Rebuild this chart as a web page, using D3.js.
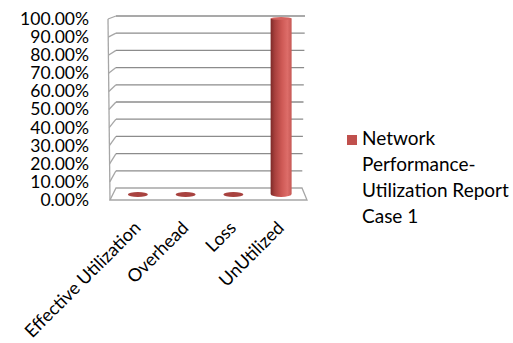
<!DOCTYPE html>
<html>
<head>
    <meta charset="utf-8">
    <style>
        body {
            margin: 0;
            background: #fff;
        }

        svg {
            display: block;
            font-family: Lato, 'Open Sans', sans-serif;
        }

        .y-label {
            font-size: 17.5px;
            fill: #000;
        }

        .cat-label {
            font-size: 18px;
            fill: #000;
        }

        .legend-text {
            font-size: 19px;
            fill: #000;
        }
    </style>
</head>
<body>
    <svg class="chart" width="513" height="343"></svg>

<script src="https://d3js.org/d3.v7.min.js"></script>
<script>
    const categories = ["Effective Utilization", "Overhead", "Loss", "UnUtilized"];
    const values = [0, 0, 0, 1];
    const yTicks = [0, 0.1, 0.2, 0.3, 0.4, 0.5, 0.6, 0.7, 0.8, 0.9, 1];
    const legendLines = ["Network", "Performance-", "Utilization Report", "Case 1"];

    let data = categories.map((c, i) => ({cat: c, value: values[i]}));

    let svg = d3.select(".chart");

    // back wall / front edge / bar depth scales (fake 3d)
    let x = d3.scaleBand()
        .domain(categories)
        .range([114, 305])

    let yBack = d3.scaleLinear().domain([0, 1]).range([188, 16])
    let yFront = d3.scaleLinear().domain([0, 1]).range([200, 19])
    let yMid = d3.scaleLinear().domain([0, 1]).range([194, 18.5])

    let wallLeft = 116
    let xFront = t => 110 - 2 * t
    let xRight = t => 302 + 3 * t

    let defs = svg.append("defs")
    let grad = defs.append("linearGradient")
        .attr("id", "cyl")
        .attr("x1", "0").attr("x2", "1").attr("y1", "0").attr("y2", "0")
    grad.append("stop").attr("offset", "0%").attr("stop-color", "#7c2a28")
    grad.append("stop").attr("offset", "20%").attr("stop-color", "#a8403d")
    grad.append("stop").attr("offset", "55%").attr("stop-color", "#cf5a56")
    grad.append("stop").attr("offset", "80%").attr("stop-color", "#dd6d69")
    grad.append("stop").attr("offset", "100%").attr("stop-color", "#c65955")

    // floor
    svg.append("path")
        .attr("d", `M${wallLeft},${yBack(0)} L${xRight(0)},${yBack(0)} L${xRight(0) + 5},${yFront(0)} L${xFront(0)},${yFront(0)} Z`)
        .style("fill", "#fff")
        .style("stroke", "#a6a6a6")
        .style("stroke-width", 1.3)

    // side wall front edge
    svg.append("line")
        .attr("x1", xFront(0)).attr("y1", yFront(0))
        .attr("x2", xFront(1)).attr("y2", yFront(1))
        .style("stroke", "#a6a6a6")
        .style("stroke-width", 1.3)

    // side wall diagonals
    svg.append("g")
        .selectAll("line")
        .data(yTicks.filter(t => t > 0))
        .join("line")
        .attr("x1", wallLeft).attr("y1", d => yBack(d))
        .attr("x2", d => xFront(d)).attr("y2", d => yFront(d))
        .style("stroke", "#a6a6a6")
        .style("stroke-width", 1.3)

    // gridlines on back wall
    svg.append("g")
        .selectAll("line")
        .data(yTicks.filter(t => t > 0))
        .join("line")
        .attr("x1", wallLeft).attr("y1", d => yBack(d))
        .attr("x2", d => xRight(d)).attr("y2", d => yBack(d))
        .style("stroke", "#8c8c8c")
        .style("stroke-width", 1.3)

    // y labels
    svg.append("g")
        .selectAll("text")
        .data(yTicks)
        .join("text")
        .attr("class", "y-label")
        .attr("x", 89)
        .attr("y", d => yFront(d) + 1.5)
        .attr("text-anchor", "end")
        .attr("dominant-baseline", "middle")
        .text(d => d3.format(".2%")(d))

    // bars
    let rx = 10.5
    let bars = svg.append("g")
        .selectAll("g")
        .data(data)
        .join("g")
        .attr("transform", d => `translate(${x(d.cat) + x.bandwidth() / 2},0)`)

    bars.filter(d => d.value > 0).append("path")
        .attr("d", d => {
            let top = yMid(d.value), bot = yMid(0)
            return `M${-rx},${top} L${-rx},${bot} A${rx},3 0 0 0 ${rx},${bot} L${rx},${top} Z`
        })
        .style("fill", "url(#cyl)")

    bars.filter(d => d.value > 0).append("ellipse")
        .attr("cx", 0)
        .attr("cy", d => yMid(d.value))
        .attr("rx", rx)
        .attr("ry", 1.5)
        .style("fill", "#d4625e")

    bars.filter(d => d.value == 0).append("ellipse")
        .attr("cx", 0)
        .attr("cy", yMid(0) + 0.5)
        .attr("rx", 10)
        .attr("ry", 2.6)
        .style("fill", "#a8423f")

    // category labels
    svg.append("g")
        .selectAll("text")
        .data(categories)
        .join("text")
        .attr("class", "cat-label")
        .attr("text-anchor", "end")
        .attr("transform", d => `translate(${x(d) + x.bandwidth() / 2 + 4},229) rotate(-45)`)
        .text(d => d)

    // legend
    svg.append("rect")
        .attr("x", 347).attr("y", 135)
        .attr("width", 10).attr("height", 10)
        .style("fill", "#c0504d")

    svg.append("g")
        .selectAll("text")
        .data(legendLines)
        .join("text")
        .attr("class", "legend-text")
        .attr("x", 362)
        .attr("y", (d, i) => 145 + i * 26)
        .text(d => d)
</script>
</body>
</html>
